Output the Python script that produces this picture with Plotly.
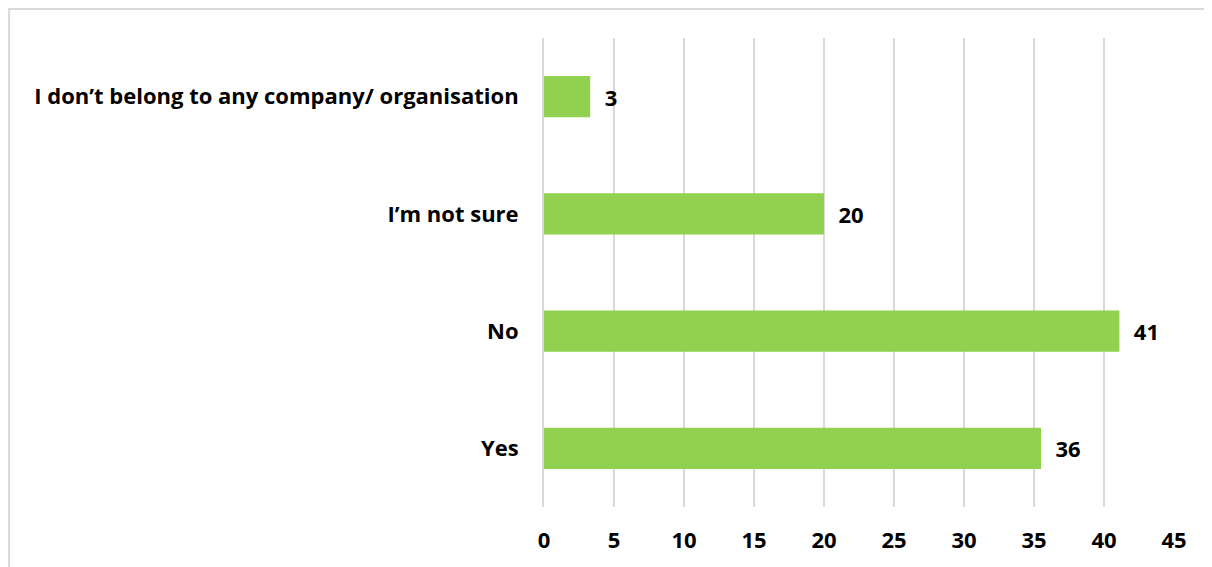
import plotly.graph_objects as go

# categories, bottom to top
categories = ["Yes", "No", "I’m not sure", "I don’t belong to any company/ organisation"]
values = [35.5, 41.1, 20.0, 3.3]
labels = ["36", "41", "20", "3"]
x_ticks = [0, 5, 10, 15, 20, 25, 30, 35, 40, 45]

font_family = "'Open Sans', sans-serif"

fig = go.Figure()
fig.add_trace(
    go.Bar(
        x=values,
        y=categories,
        orientation="h",
        marker=dict(color="#92D050", line=dict(width=0)),
        text=["  " + t for t in labels],
        textposition="outside",
        cliponaxis=False,
        textfont=dict(family=font_family, size=22, color="#000000", weight="bold"),
    )
)

fig.update_layout(
    width=1204,
    height=559,
    margin=dict(l=536, r=38, t=30, b=60),
    paper_bgcolor="white",
    plot_bgcolor="white",
    bargap=0.65,
    showlegend=False,
    font=dict(family=font_family, size=22, color="#000000", weight="bold"),
    xaxis=dict(
        range=[0, 45],
        tickvals=x_ticks,
        showgrid=True,
        gridcolor="#D9D9D9",
        gridwidth=2,
        zeroline=False,
        showline=False,
        ticks="outside",
        ticklen=14,
        tickcolor="rgba(0,0,0,0)",
        tickfont=dict(family=font_family, size=22, color="#000000", weight="bold"),
        fixedrange=True,
    ),
    yaxis=dict(
        showgrid=False,
        zeroline=False,
        showline=True,
        linecolor="#D9D9D9",
        linewidth=2,
        ticks="outside",
        ticklen=19,
        tickcolor="rgba(0,0,0,0)",
        tickfont=dict(family=font_family, size=22, color="#000000", weight="bold"),
        fixedrange=True,
    ),
    shapes=[
        dict(
            type="rect",
            xref="paper",
            yref="paper",
            x0=-0.849,
            x1=1.2,
            y0=-0.3,
            y1=1.062,
            line=dict(color="#D9D9D9", width=2),
            fillcolor="rgba(0,0,0,0)",
            layer="below",
        )
    ],
)

fig.write_html("out.html")
